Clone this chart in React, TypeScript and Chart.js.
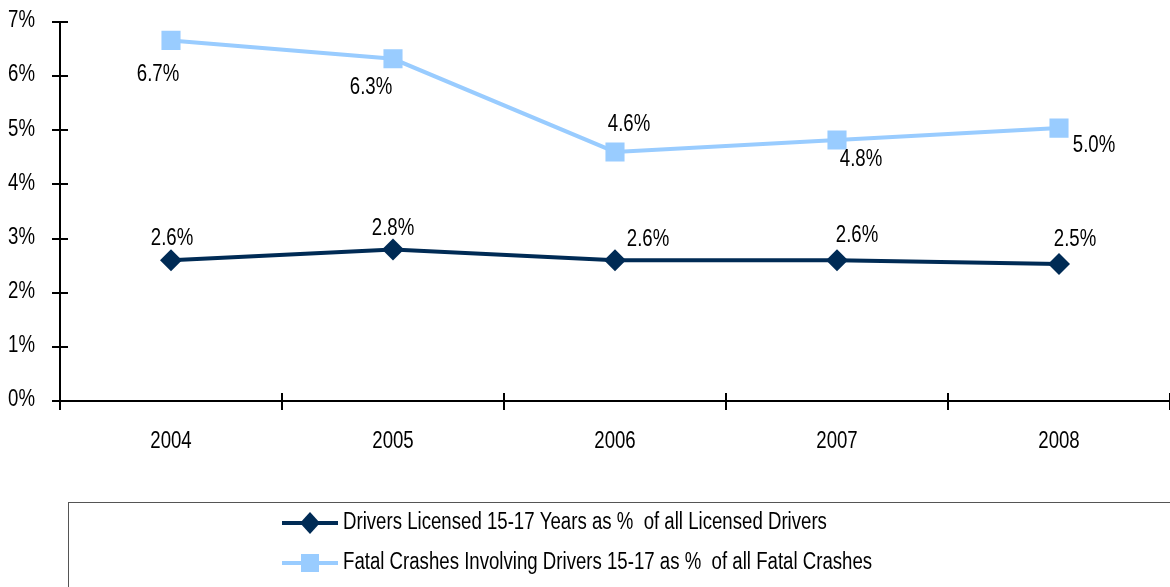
import React, { useEffect, useRef } from "react";
import { Chart, registerables } from "chart.js";

Chart.register(...registerables);

const years = ["2004", "2005", "2006", "2007", "2008"];
const licensedShare = [2.6, 2.8, 2.6, 2.6, 2.53];
const fatalShare = [6.66, 6.32, 4.6, 4.82, 5.04];
const yTickValues = [0, 1, 2, 3, 4, 5, 6, 7];
const yTickLabels = ["0%", "1%", "2%", "3%", "4%", "5%", "6%", "7%"];
const seriesNames = [
  "Drivers Licensed 15-17 Years as %  of all Licensed Drivers",
  "Fatal Crashes Involving Drivers 15-17 as %  of all Fatal Crashes",
];

// label offsets relative to each point (layout only)
const licensedLabelOffsets = [
  [1, -22],
  [0, -21],
  [33, -21],
  [20, -25],
  [16, -24],
];
const fatalLabelOffsets = [
  [-13, 34],
  [-22, 29],
  [14, -27],
  [24, 20],
  [35, 18],
];

const DARK = "#002B55";
const LIGHT = "#99CCFF";
const FONT = "23px 'Liberation Sans', Arial, sans-serif";
const SQUEEZE = 0.81;

function narrowText(ctx: any, text: string, x: number, y: number, align: "left" | "center" | "right") {
  ctx.save();
  ctx.font = FONT;
  ctx.textAlign = align;
  ctx.textBaseline = "middle";
  ctx.translate(x, y);
  ctx.scale(SQUEEZE, 1);
  ctx.fillText(text, 0, 0);
  ctx.restore();
}

const axesPlugin = {
  id: "customAxes",
  beforeDatasetsDraw(chart: any) {
    const { ctx, chartArea } = chart;
    const { left, right, top, bottom } = chartArea;
    const y = chart.scales.y;
    const x = chart.scales.x;
    ctx.save();
    ctx.strokeStyle = "#000";
    ctx.lineWidth = 2;
    ctx.beginPath();
    ctx.moveTo(left, top);
    ctx.lineTo(left, bottom + 9);
    yTickValues.forEach((v) => {
      const py = Math.round(y.getPixelForValue(v));
      ctx.moveTo(left - 8, py);
      ctx.lineTo(left + 8, py);
    });
    ctx.moveTo(left - 8, bottom);
    ctx.lineTo(right, bottom);
    const n = years.length;
    const w = (right - left) / n;
    for (let i = 1; i <= n; i++) {
      const px = Math.round(left + i * w);
      ctx.moveTo(px, bottom - 8);
      ctx.lineTo(px, bottom + 9);
    }
    ctx.stroke();
    ctx.fillStyle = "#000";
    yTickValues.forEach((v, i) => {
      narrowText(ctx, yTickLabels[i], 35, y.getPixelForValue(v) - 1, "right");
    });
    years.forEach((yr, i) => {
      narrowText(ctx, yr, x.getPixelForValue(i), bottom + 41, "center");
    });
    ctx.restore();
  },
};

const labelsPlugin = {
  id: "pointLabels",
  afterDatasetsDraw(chart: any) {
    const { ctx } = chart;
    ctx.save();
    ctx.fillStyle = "#000";
    const offsetsList = [licensedLabelOffsets, fatalLabelOffsets];
    chart.data.datasets.forEach((ds: any, di: number) => {
      const meta = chart.getDatasetMeta(di);
      meta.data.forEach((pt: any, i: number) => {
        const [dx, dy] = offsetsList[di][i];
        const txt = Number(ds.data[i]).toFixed(1) + "%";
        narrowText(ctx, txt, pt.x + dx, pt.y + dy, "center");
      });
    });
    ctx.restore();
  },
};

const legendPlugin = {
  id: "boxLegend",
  afterDraw(chart: any) {
    const { ctx } = chart;
    ctx.save();
    ctx.strokeStyle = "#555";
    ctx.lineWidth = 1;
    ctx.strokeRect(68.5, 502.5, 1200, 200);
    const items = [
      { color: DARK, style: "diamond", y: 523, text: seriesNames[0] },
      { color: LIGHT, style: "square", y: 563, text: seriesNames[1] },
    ];
    items.forEach((it) => {
      ctx.strokeStyle = it.color;
      ctx.fillStyle = it.color;
      ctx.lineWidth = 4;
      ctx.beginPath();
      ctx.moveTo(282, it.y);
      ctx.lineTo(338, it.y);
      ctx.stroke();
      const cx = 310;
      ctx.beginPath();
      if (it.style === "diamond") {
        ctx.moveTo(cx, it.y - 11);
        ctx.lineTo(cx + 10, it.y);
        ctx.lineTo(cx, it.y + 11);
        ctx.lineTo(cx - 10, it.y);
        ctx.closePath();
      } else {
        ctx.rect(cx - 9, it.y - 9, 18, 18);
      }
      ctx.fill();
      ctx.fillStyle = "#000";
      narrowText(ctx, it.text, 343, it.y, "left");
    });
    ctx.restore();
  },
};

export default function App() {
  const canvasRef = useRef<HTMLCanvasElement | null>(null);

  useEffect(() => {
    const canvas = canvasRef.current;
    if (!canvas) return;
    const chart = new Chart(canvas, {
      type: "line",
      data: {
        labels: years,
        datasets: [
          {
            label: seriesNames[0],
            data: licensedShare,
            borderColor: DARK,
            backgroundColor: DARK,
            borderWidth: 4,
            pointStyle: "rectRot",
            pointRadius: 11,
            pointHoverRadius: 11,
            pointBorderWidth: 0,
            tension: 0,
          },
          {
            label: seriesNames[1],
            data: fatalShare,
            borderColor: LIGHT,
            backgroundColor: LIGHT,
            borderWidth: 4,
            pointStyle: "rect",
            pointRadius: 13.5,
            pointHoverRadius: 13.5,
            pointBorderWidth: 0,
            tension: 0,
          },
        ],
      },
      options: {
        animation: false,
        responsive: false,
        maintainAspectRatio: false,
        events: [],
        layout: { autoPadding: false, padding: { top: 22, right: 0, bottom: 106, left: 0 } },
        plugins: {
          legend: { display: false },
          tooltip: { enabled: false },
          title: { display: false },
        },
        scales: {
          x: {
            type: "category",
            offset: true,
            grid: { display: false, drawTicks: false },
            border: { display: false },
            ticks: { display: false },
            afterFit(scale: any) {
              scale.height = 80;
            },
          },
          y: {
            min: 0,
            max: 7,
            grid: { display: false, drawTicks: false },
            border: { display: false },
            ticks: { display: false, stepSize: 1 },
            afterFit(scale: any) {
              scale.width = 60;
            },
          },
        },
      },
      plugins: [axesPlugin, labelsPlugin, legendPlugin],
    });
    return () => chart.destroy();
  }, []);

  return (
    <div style={{ position: "absolute", left: 0, top: 0, width: 1170, height: 587, background: "#fff" }}>
      <canvas ref={canvasRef} width={1170} height={587} style={{ display: "block" }} />
    </div>
  );
}
